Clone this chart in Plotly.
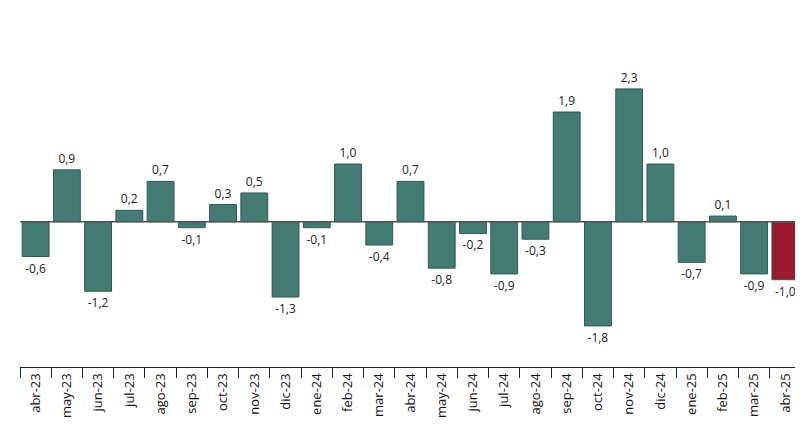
import plotly.graph_objects as go

months = ["abr-23","may-23","jun-23","jul-23","ago-23","sep-23","oct-23","nov-23","dic-23",
          "ene-24","feb-24","mar-24","abr-24","may-24","jun-24","jul-24","ago-24","sep-24",
          "oct-24","nov-24","dic-24","ene-25","feb-25","mar-25","abr-25"]
values = [-0.6,0.9,-1.2,0.2,0.7,-0.1,0.3,0.5,-1.3,-0.1,1.0,-0.4,0.7,-0.8,-0.2,-0.9,-0.3,1.9,
          -1.8,2.3,1.0,-0.7,0.1,-0.9,-1.0]

colors = ["#447c74"]*(len(values)-1) + ["#9c1a30"]
labels = [f"{v:.1f}".replace(".", ",") for v in values]

fig = go.Figure(go.Bar(
    x=months, y=values, marker=dict(color=colors, line=dict(width=1, color="#2f5a54")),
    width=0.86, text=labels, textposition="outside", cliponaxis=False,
    textfont=dict(size=12, color="#222", family="Open Sans"),
))
fig.add_shape(type="line", xref="paper", x0=0, x1=1, yref="y", y0=0, y1=0,
              line=dict(color="#555", width=1.5))
fig.update_layout(
    width=803, height=425, margin=dict(l=12, r=10, t=30, b=66, autoexpand=False),
    plot_bgcolor="white", paper_bgcolor="white", showlegend=False,
    xaxis=dict(showline=True, linecolor="#222", linewidth=1.2, tickangle=-90, automargin=False,
               ticks="outside", ticklen=10, tickcolor="#222", tickson="boundaries",
               tickfont=dict(size=13, color="#111", family="Open Sans")),
    yaxis=dict(range=[-2.51, 3.18], visible=False, showgrid=False, zeroline=False, automargin=False),
)
fig.write_html("out.html")
